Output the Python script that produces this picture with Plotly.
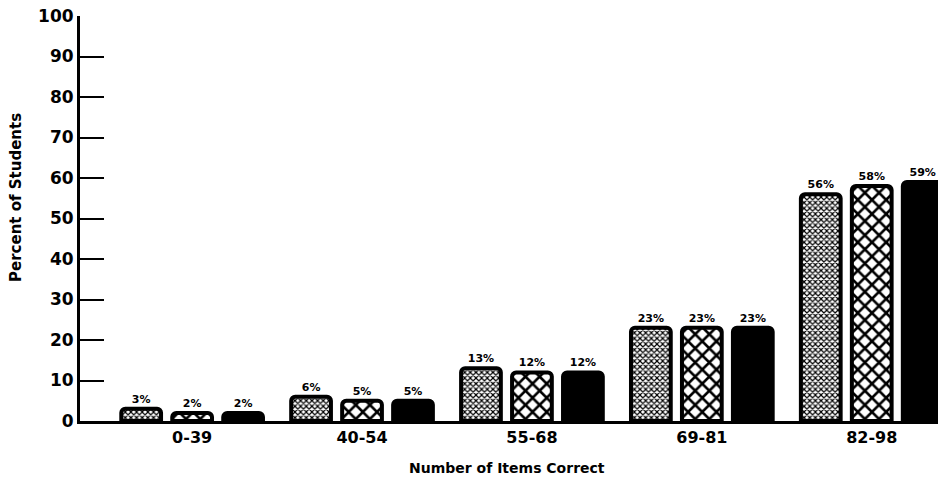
import plotly.graph_objects as go

categories = ["0-39", "40-54", "55-68", "69-81", "82-98"]
series_a = [3, 6, 13, 23, 56]
series_b = [2, 5, 12, 23, 58]
series_c = [2, 5, 12, 23, 59]
y_ticks = [0, 10, 20, 30, 40, 50, 60, 70, 80, 90, 100]

FONT = "DejaVu Sans"

def labels(vals):
    return [f"{v}%" for v in vals]

styles = [
    dict(shape="x", size=4, solidity=0.5),
    dict(shape="x", size=10, solidity=0.45),
    None,
]

fig = go.Figure()
for vals, pat in zip([series_a, series_b, series_c], styles):
    marker = dict(color="black" if pat is None else "white",
                  line=dict(color="black", width=4))
    if pat is not None:
        marker["pattern"] = dict(fgcolor="black", bgcolor="white", fillmode="replace", **pat)
    fig.add_trace(go.Bar(
        x=categories, y=vals, marker=marker,
        text=labels(vals), textposition="outside",
        textfont=dict(family=FONT, size=11, color="black", weight="bold"),
        cliponaxis=False, showlegend=False,
    ))

fig.update_layout(
    width=938, height=483,
    margin=dict(l=80, r=0, t=16, b=62),
    paper_bgcolor="white", plot_bgcolor="white",
    barmode="group", bargap=0.1, bargroupgap=0.22,
    barcornerradius=4,
    xaxis=dict(
        range=[-0.66, 4.39], showline=True, linewidth=3, linecolor="black",
        showgrid=False, ticks="", zeroline=False,
        tickfont=dict(family=FONT, size=16, color="black", weight="bold"),
    ),
    yaxis=dict(
        range=[0, 100], tickvals=y_ticks, showline=True, linewidth=3, linecolor="black",
        showgrid=False, zeroline=False, ticks="inside", ticklen=24, tickwidth=2,
        tickcolor="black",
        tickfont=dict(family=FONT, size=17, color="black", weight="bold"),
    ),
    annotations=[
        dict(text="Number of Items Correct", xref="paper", yref="paper",
             x=(507 - 80) / 858, y=-(468 - 421) / 405, xanchor="center", yanchor="middle",
             showarrow=False,
             font=dict(family=FONT, size=14, color="black", weight="bold")),
        dict(text="Percent of Students", xref="paper", yref="paper",
             x=-(80 - 16) / 858, y=(421 - 198) / 405, xanchor="center", yanchor="middle",
             textangle=-90, showarrow=False,
             font=dict(family=FONT, size=15, color="black", weight="bold")),
    ],
)

fig.write_html("out.html")
